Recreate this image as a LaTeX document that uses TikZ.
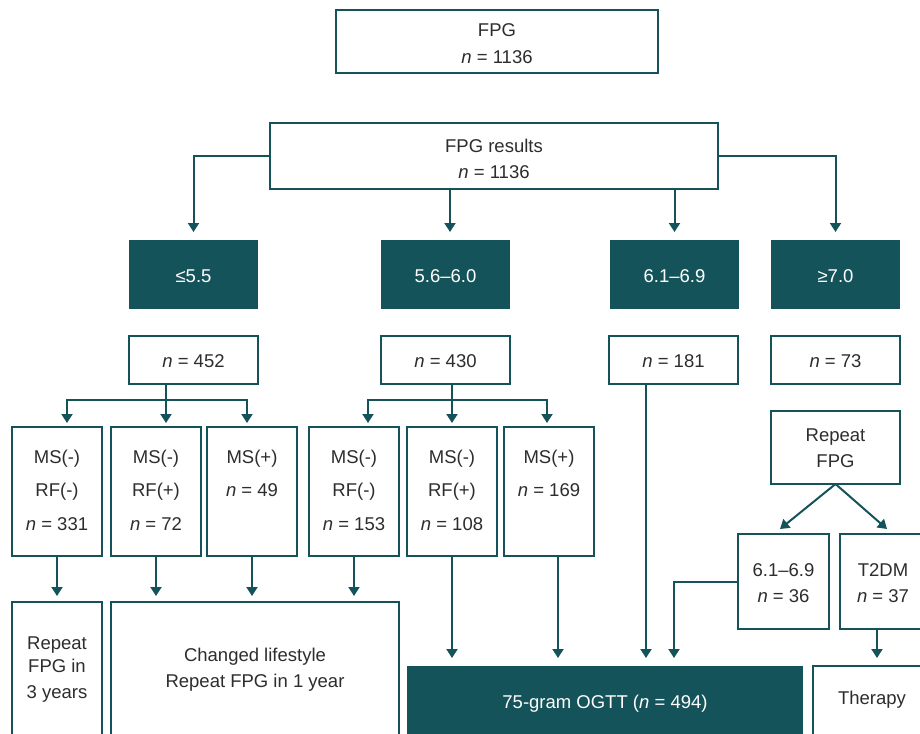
\documentclass[tikz,border=0pt]{standalone}
\usepackage{fontspec}
\setmainfont{Liberation Sans}
\usetikzlibrary{arrows.meta}
\definecolor{tealc}{RGB}{20,83,89}
\definecolor{txtc}{RGB}{45,45,45}
\newcommand\mkbox[6]{\node[#1, minimum width={(#5-#3)*1pt}, minimum height={(#6-#4)*1pt}] (#2) at ({(#3+#5)/2},{(#4+#6)/2}) {};}
\begin{document}
\begin{tikzpicture}[x=1pt,y=-1pt,
  obox/.style={draw=tealc, line width=2.8pt, fill=white, inner sep=0pt, outer sep=0pt},
  dbox/.style={fill=tealc, draw=none, inner sep=0pt, outer sep=0pt},
  txt/.style={text=txtc, font=\fontsize{18.5}{22}\selectfont, inner sep=0pt, text height=13pt, text depth=0pt},
  wtxt/.style={txt, text=white},
  ln/.style={draw=tealc, line width=2pt},
  arr/.style={ln, -{Triangle[width=11pt,length=9pt]}}]
\useasboundingbox (0,0) rectangle (920,733);
\clip (0,0) rectangle (920,733);

% top boxes
\mkbox{obox}{fpg}{336}{10}{658}{73}
\node[txt] (fpgt1) at (497,30) {FPG};
\node[txt] (fpgt2) at (497,57) {\textit{n} = 1136};
\mkbox{obox}{res}{270}{123}{718}{189}
\node[txt] (rest1) at (494,146) {FPG results};
\node[txt] (rest2) at (494,172) {\textit{n} = 1136};

% dark category boxes
\mkbox{dbox}{d1}{129}{240}{258}{309}
\mkbox{dbox}{d2}{381}{240}{510}{309}
\mkbox{dbox}{d3}{610}{240}{739}{309}
\mkbox{dbox}{d4}{771}{240}{900}{309}
\node[wtxt] (d1t) at (193.5,276) {≤5.5};
\node[wtxt] (d2t) at (445.5,276) {5.6–6.0};
\node[wtxt] (d3t) at (674.5,276) {6.1–6.9};
\node[wtxt] (d4t) at (835.5,276) {≥7.0};

% n boxes
\mkbox{obox}{n1}{129}{336}{258}{384}
\mkbox{obox}{n2}{381}{336}{510}{384}
\mkbox{obox}{n3}{609}{336}{738}{384}
\mkbox{obox}{n4}{771}{336}{900}{384}
\node[txt] (n1t) at (193.5,361) {\textit{n} = 452};
\node[txt] (n2t) at (445.5,361) {\textit{n} = 430};
\node[txt] (n3t) at (673.5,361) {\textit{n} = 181};
\node[txt] (n4t) at (835.5,361) {\textit{n} = 73};

% MS boxes
\mkbox{obox}{m1}{12}{427}{102}{556}
\mkbox{obox}{m2}{111}{427}{201}{556}
\mkbox{obox}{m3}{207}{427}{297}{556}
\mkbox{obox}{m4}{309}{427}{399}{556}
\mkbox{obox}{m5}{407}{427}{497}{556}
\mkbox{obox}{m6}{504}{427}{594}{556}
\node[txt] (m1a) at (57,457) {MS(-)};
\node[txt] (m1b) at (57,490) {RF(-)};
\node[txt] (m1c) at (57,524) {\textit{n} = 331};
\node[txt] (m2a) at (156,457) {MS(-)};
\node[txt] (m2b) at (156,490) {RF(+)};
\node[txt] (m2c) at (156,524) {\textit{n} = 72};
\node[txt] (m3a) at (252,457) {MS(+)};
\node[txt] (m3b) at (252,490) {\textit{n} = 49};
\node[txt] (m4a) at (354,457) {MS(-)};
\node[txt] (m4b) at (354,490) {RF(-)};
\node[txt] (m4c) at (354,524) {\textit{n} = 153};
\node[txt] (m5a) at (452,457) {MS(-)};
\node[txt] (m5b) at (452,490) {RF(+)};
\node[txt] (m5c) at (452,524) {\textit{n} = 108};
\node[txt] (m6a) at (549,457) {MS(+)};
\node[txt] (m6b) at (549,490) {\textit{n} = 169};

% repeat FPG branch
\mkbox{obox}{rf}{771}{411}{900}{484}
\node[txt] (rft1) at (835.5,435) {Repeat};
\node[txt] (rft2) at (835.5,461) {FPG};
\mkbox{obox}{s1}{738}{534}{829}{629}
\mkbox{obox}{t2}{840}{534}{932}{629}
\node[txt] (s1a) at (783.5,570) {6.1–6.9};
\node[txt] (s1b) at (783.5,596) {\textit{n} = 36};
\node[txt] (t2a) at (883,570) {T2DM};
\node[txt] (t2b) at (883,596) {\textit{n} = 37};

% bottom boxes
\mkbox{obox}{b1}{12}{602}{102}{760}
\mkbox{obox}{b2}{111}{602}{399}{760}
\mkbox{dbox}{og}{407}{666}{803}{760}
\mkbox{obox}{th}{813}{666}{935}{760}
\node[txt] (b1a) at (57,643) {Repeat};
\node[txt] (b1b) at (57,666) {FPG in};
\node[txt] (b1c) at (57,692) {3 years};
\node[txt] (b2a) at (255,655) {Changed lifestyle};
\node[txt] (b2b) at (255,681) {Repeat FPG in 1 year};
\node[wtxt] (ogt) at (605,702) {75-gram OGTT (\textit{n} = 494)};
\node[txt] (tht) at (872,698) {Therapy};

% connector coordinates
\coordinate (x450) at (450,0);
\coordinate (j1) at (166,400);
\coordinate (a1) at (67,423);
\coordinate (a2) at (166,423);
\coordinate (a3) at (247,423);
\coordinate (j2) at (452,400);
\coordinate (a4) at (368,423);
\coordinate (a5) at (452,423);
\coordinate (a6) at (547,423);
\coordinate (c558) at (558,658);
\coordinate (c646) at (646,658);
\coordinate (c674) at (674,658);
\coordinate (c877) at (877,658);
\coordinate (r1) at (780,529);
\coordinate (r2) at (887,529);

% connectors
\draw[arr] (res.west) -| ([yshift=8pt]d1.north);
\draw[arr] (res.east) -| ([yshift=8pt]d4.north);
\draw[arr] (res.south -| x450) -- ([yshift=8pt]d2.north -| x450);
\draw[arr] (res.south -| d3.north) -- ([yshift=8pt]d3.north);

\draw[ln] (n1.south -| j1) -- (j1);
\draw[arr] (j1) -| (a1);
\draw[arr] (j1) -- (a2);
\draw[arr] (j1) -| (a3);
\draw[ln] (n2.south -| j2) -- (j2);
\draw[arr] (j2) -| (a4);
\draw[arr] (j2) -- (a5);
\draw[arr] (j2) -| (a6);

\draw[arr] (m1.south) -- ++(0,40);
\draw[arr] (m2.south) -- ++(0,40);
\draw[arr] (m3.south) -- ++(0,40);
\draw[arr] (m4.south) -- ++(0,40);
\draw[arr] (m5.south) -- ++(0,102);
\draw[arr] (m6.south -| c558) -- (c558);
\draw[arr] (n3.south -| c646) -- (c646);
\draw[arr] (s1.west) -| (c674);
\draw[arr] (t2.south -| c877) -- (c877);
\draw[arr] (rf.south) -- (r1);
\draw[arr] (rf.south) -- (r2);
\end{tikzpicture}
\end{document}
